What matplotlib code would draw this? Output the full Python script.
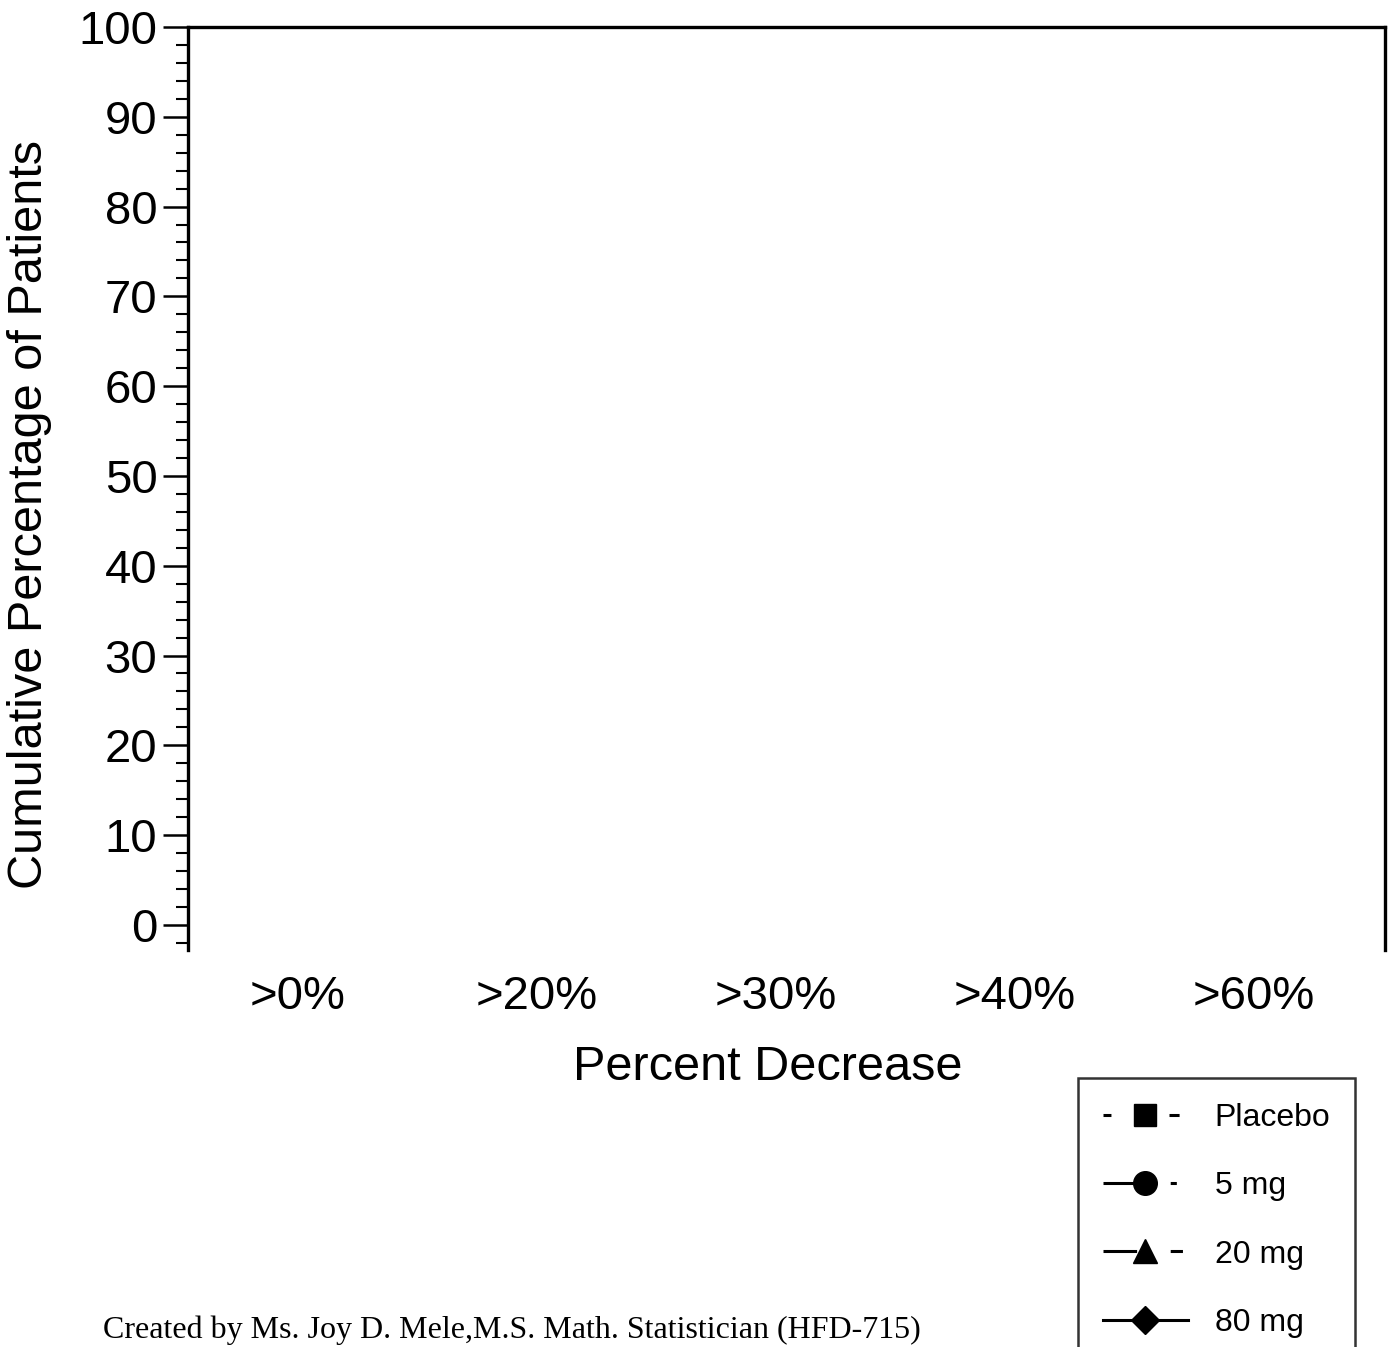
import matplotlib
matplotlib.use("Agg")
import matplotlib.pyplot as plt
from matplotlib.ticker import MultipleLocator

plt.rcParams['font.family'] = ['Liberation Sans', 'DejaVu Sans']

categories = [">0%", ">20%", ">30%", ">40%", ">60%"]
series_names = ["Placebo", "5 mg", "20 mg", "80 mg"]
# No data points are visible in the reference image; series are empty.
placebo = []
mg5 = []
mg20 = []
mg80 = []
y_ticks = [0, 10, 20, 30, 40, 50, 60, 70, 80, 90, 100]

W, H = 1391, 1347
fig = plt.figure(figsize=(W / 100, H / 100), dpi=100)
ax = fig.add_axes([188 / W, 1 - 950 / H, (1385 - 188) / W, (950 - 27) / H])

xs = list(range(len(categories)))
styles = [
    dict(marker='s', linestyle=(0, (2.6, 19, 3.3, 10)), markersize=16.5),
    dict(marker='o', linestyle=(0, (10, 12, 2, 12)), markersize=17),
    dict(marker='^', linestyle=(0, (11, 11, 4, 10)), markersize=17),
    dict(marker='D', linestyle='-', markersize=14),
]
data = [placebo, mg5, mg20, mg80]
handles = []
for name, vals, st in zip(series_names, data, styles):
    h, = ax.plot(xs[:len(vals)], vals, color='black', linewidth=2.2, label=name, **st)
    handles.append(h)

ax.set_xlim(-0.458, 4.55)
ax.set_ylim(-2.8, 100)
ax.set_xticks(xs)
ax.set_xticklabels(categories, fontsize=34)
ax.tick_params(axis='x', length=0, pad=18)
ax.set_yticks(y_ticks)
ax.set_yticklabels([str(t) for t in y_ticks], fontsize=34)
ax.yaxis.set_minor_locator(MultipleLocator(2))
ax.tick_params(axis='y', which='major', direction='out', length=18, width=1.8, pad=4)
ax.tick_params(axis='y', which='minor', direction='out', length=9, width=1.5)

ax.spines['bottom'].set_visible(False)
for s in ['left', 'top', 'right']:
    ax.spines[s].set_linewidth(2.4)
    ax.spines[s].set_color('black')

fig.text(30 / W, 1 - 515 / H, "Cumulative Percentage of Patients", rotation=90,
         ha='center', va='center', fontsize=35)
fig.text(768 / W, 1 - 1067 / H, "Percent Decrease", ha='center', va='center', fontsize=35)

leg = fig.legend(handles=handles, loc='upper left',
                 bbox_to_anchor=(1078 / W, 1 - 1078 / H),
                 fontsize=23, frameon=True, fancybox=False, edgecolor='black',
                 handlelength=2.65, handletextpad=0.85, labelspacing=1.2,
                 borderpad=0.78, borderaxespad=0, markerscale=1.0)
leg.get_frame().set_linewidth(1.8)

fig.text(512 / W, 1 - 1330 / H,
         "Created by Ms. Joy D. Mele,M.S. Math. Statistician (HFD-715)",
         ha='center', va='center', fontsize=23, family=['Liberation Serif', 'DejaVu Serif'])

fig.savefig("out.png", dpi=100)
